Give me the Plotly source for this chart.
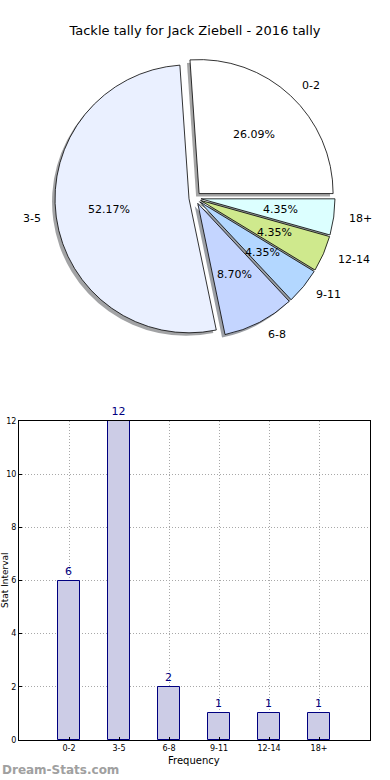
import math
import plotly.graph_objects as go

# ---- data ----
categories = ["0-2", "3-5", "6-8", "9-11", "12-14", "18+"]
counts = [6, 12, 2, 1, 1, 1]
pie_colors = ["#ffffff", "#eaf0ff", "#c4d5ff", "#b3d7ff", "#cfe98d", "#dcffff"]
title_text = "Tackle tally for Jack Ziebell - 2016 tally"
bar_xlabel = "Frequency"
bar_ylabel = "Stat Interval"
y_ticks = [0, 2, 4, 6, 8, 10, 12]

W, H = 390, 780
FONT = "DejaVu Sans"

# pie geometry (pixels)
cx, cy = 195, 198
r = 134
pull = 0.045
half = r * (1 + pull)


def px(x):
    return x / W


def py(y):
    return 1 - y / H


def shadow(c):
    c = c.lstrip("#")
    rgb = [int(c[i:i + 2], 16) for i in (0, 2, 4)]
    return "rgba(%d,%d,%d,0.5)" % tuple(int(0.3 * v) for v in rgb)


total = sum(counts)
# first slice starts at 3 o'clock and runs counterclockwise
rotation = 90 - 360.0 * counts[0] / total

fig = go.Figure()

sh = 3
fig.add_trace(go.Pie(
    labels=categories, values=counts, sort=False, direction="counterclockwise",
    rotation=rotation, pull=[pull] * len(counts), textinfo="none", hoverinfo="skip",
    marker=dict(colors=[shadow(c) for c in pie_colors], line=dict(width=0)),
    domain=dict(x=[px(cx - sh - half), px(cx - sh + half)],
                y=[py(cy + sh + half), py(cy + sh - half)]),
    showlegend=False,
))
fig.add_trace(go.Pie(
    labels=categories, values=counts, sort=False, direction="counterclockwise",
    rotation=rotation, pull=[pull] * len(counts), textinfo="none",
    marker=dict(colors=pie_colors, line=dict(color="black", width=0.8)),
    domain=dict(x=[px(cx - half), px(cx + half)],
                y=[py(cy + half), py(cy - half)]),
    showlegend=False,
))

annotations = []
start = 0.0
for lab, v in zip(categories, counts):
    frac = v / total
    mid = (start + frac / 2) * 2 * math.pi
    start += frac
    ca, sa = math.cos(mid), math.sin(mid)
    ox, oy = cx + pull * r * ca, cy - pull * r * sa
    annotations.append(dict(
        x=px(ox + 0.6 * r * ca), y=py(oy - 0.6 * r * sa), xref="paper", yref="paper",
        text="%.2f%%" % (100 * frac), showarrow=False,
        font=dict(family=FONT, size=11, color="black"),
        xanchor="center", yanchor="middle"))
    annotations.append(dict(
        x=px(ox + 1.1 * r * ca), y=py(oy - 1.1 * r * sa), xref="paper", yref="paper",
        text=lab, showarrow=False,
        font=dict(family=FONT, size=11, color="black"),
        xanchor="left" if ca >= 0 else "right", yanchor="middle"))

# bar chart
fig.add_trace(go.Bar(
    x=categories, y=counts, width=0.45,
    marker=dict(color="#cccce6", line=dict(color="#000080", width=1)),
    text=[str(c) for c in counts], textposition="outside", cliponaxis=False,
    textfont=dict(family=FONT, size=11, color="#000080"),
    xaxis="x", yaxis="y", showlegend=False,
))

annotations.append(dict(
    x=px(5), y=py(580), xref="paper", yref="paper", text=bar_ylabel,
    textangle=-90, showarrow=False, font=dict(family=FONT, size=9, color="black"),
    xanchor="center", yanchor="middle"))
annotations.append(dict(
    x=px(194), y=py(760), xref="paper", yref="paper", text=bar_xlabel,
    showarrow=False, font=dict(family=FONT, size=10, color="black"),
    xanchor="center", yanchor="middle"))
annotations.append(dict(
    x=0, y=py(770), xref="paper", yref="paper", text="<b>Dream-Stats.com</b>",
    showarrow=False, font=dict(family=FONT, size=12, color="#a0a0a0"),
    xanchor="left", yanchor="middle"))

grid_dash = "1px,2px"
fig.update_layout(
    width=W, height=H,
    margin=dict(l=0, r=0, t=0, b=0, autoexpand=False),
    paper_bgcolor="white", plot_bgcolor="white",
    title=dict(text=title_text, x=0.5, xanchor="center", y=py(30), yanchor="middle",
               font=dict(family=FONT, size=13, color="black")),
    font=dict(family=FONT),
    annotations=annotations,
    xaxis=dict(domain=[px(19), px(370)], range=[-1, len(categories) + 0.02],
               type="category", showline=True, mirror=True, linecolor="black",
               linewidth=1, showgrid=True, gridcolor="#a8a8a8", griddash=grid_dash,
               ticks="inside", ticklen=3, tickcolor="black",
               tickfont=dict(family=FONT, size=8, color="black"),
               zeroline=False, anchor="y", automargin=False),
    yaxis=dict(domain=[py(740), py(421)], range=[0, 12], tickvals=y_ticks,
               showline=True, mirror=True, linecolor="black", linewidth=1,
               showgrid=True, gridcolor="#a8a8a8", griddash=grid_dash,
               ticks="inside", ticklen=3, tickcolor="black",
               tickfont=dict(family=FONT, size=8, color="black"),
               zeroline=False, anchor="x", automargin=False),
    bargap=0,
)

fig.write_html(
    "out.html",
    config={"displayModeBar": False},
    post_script="document.body.style.margin='0';document.body.style.overflow='hidden';",
)
